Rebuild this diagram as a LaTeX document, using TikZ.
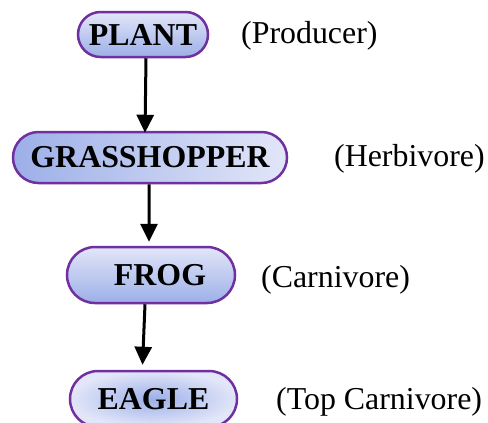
\documentclass[tikz,border=0pt]{standalone}
\usepackage{fontspec}
\setmainfont{Liberation Serif}
\definecolor{boxpurple}{HTML}{7030A0}
\definecolor{boxlight}{HTML}{E2E6F8}
\definecolor{boxdark}{HTML}{9CAFE8}
\usetikzlibrary{shapes.misc,arrows.meta}
\tikzstyle{level} = [
 rounded rectangle,
 draw=boxpurple,
 line width=2.5bp,
 inner sep=0pt,
 font=\fontsize{32}{32}\selectfont\bfseries,
 align = center
]
\tikzstyle{role} = [
 anchor=base west,
 inner sep=0pt,
 font=\fontsize{32}{32}\selectfont
]
\tikzstyle{link} = [
 line width=3bp,
 -{Triangle[width=17bp,length=18bp]}
]

\begin{document}
\begin{tikzpicture}[x=1bp,y=-1bp]
  \useasboundingbox (0,0) rectangle (488,422);
  \node [level, top color=boxlight, bottom color=boxdark,
    minimum width=130bp, minimum height=45bp] (plant) at (143,34.5) {PLANT};
  \node [level, left color=boxdark, right color=boxlight,
    minimum width=274bp, minimum height=51bp] (grass) at (150,157.5) {GRASSHOPPER};
  \node [level, top color=boxlight, bottom color=boxdark,
    minimum width=168bp, minimum height=56bp] (frog) at (151,275) {\hspace*{18bp}FROG};
  \node [level, inner color=boxdark, outer color=boxlight,
    minimum width=167bp, minimum height=56bp] (eagle) at (153.5,399) {EAGLE};
  % labels
  \node [role] (prod) at (241,43) {(Producer)};
  \node [role] (herb) at (334,166) {(Herbivore)};
  \node [role] (carn) at (261,287) {(Carnivore)};
  \node [role] (top) at (276,409) {(Top Carnivore)};
  % arrows
  \draw [link] ([xshift=3bp]plant.south) -- ([xshift=-5bp,yshift=-2bp]grass.north);
  \draw [link] ([xshift=-1bp]grass.south) -- ([xshift=-2bp,yshift=4bp]frog.north);
  \draw [link] ([xshift=-6bp]frog.south) -- ([xshift=-11bp,yshift=5bp]eagle.north);
\end{tikzpicture}
\end{document}
